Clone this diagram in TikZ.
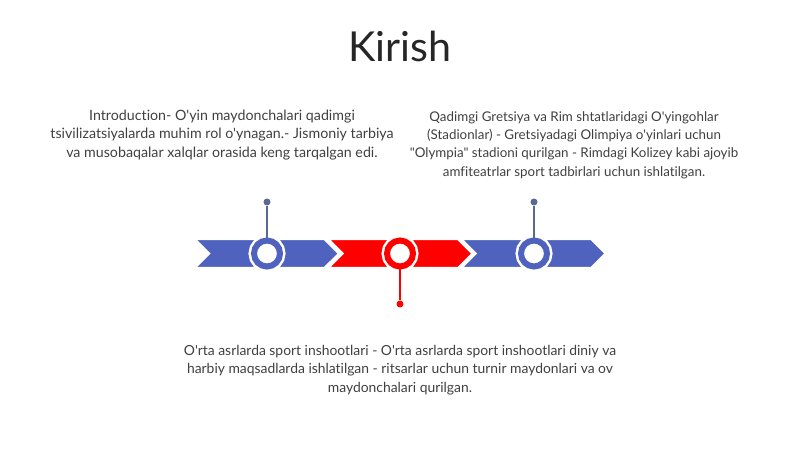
\documentclass[tikz,border=0pt]{standalone}
\usepackage{fontspec}
\setmainfont{Lato}[Ligatures={TeXOff,NoCommon}]
\usetikzlibrary{shapes.symbols, positioning}
\definecolor{segblue}{RGB}{78,98,190}
\definecolor{pingray}{RGB}{92,104,148}
\definecolor{txtgray}{RGB}{64,64,64}

\begin{document}
\begin{tikzpicture}[
  x=0.02cm, y=-0.02cm,
  seg/.style={signal, signal from=west, signal to=east, fill=#1, draw=white, line width=0.8pt, minimum width=2.86cm, minimum height=0.56cm, inner sep=0pt},
  ringnode/.style={circle, fill=white, draw=white, line width=0.05cm, double=#1, double distance=0.12cm, minimum size=0.52cm, inner sep=0pt},
  pindot/.style={circle, fill=#1, minimum size=0.14cm, inner sep=0pt},
  pinline/.style={line width=0.9pt},
  desc/.style={align=center, font=\fontsize{#1}{10.5}\selectfont, text=txtgray}
]
\useasboundingbox (0,0) rectangle (800,449);

\node[font=\fontsize{23.5}{30}\selectfont, text=black!85] (title) at (400,46) {Kirish};

% timeline band
\node[seg=segblue] (seg1) at (267,253.5) {};
\node[seg=red] (seg2) at (400.5,253.5) {};
\node[seg=segblue] (seg3) at (533.5,253.5) {};

\node[ringnode=segblue] (c1) at (267,253.5) {};
\node[ringnode=red] (c2) at (400,253.5) {};
\node[ringnode=segblue] (c3) at (534,253.5) {};

% pins
\node[pindot=pingray] (d1) at (267,202) {};
\node[pindot=red] (d2) at (400,304) {};
\node[pindot=pingray] (d3) at (534,202) {};
\draw[pinline, pingray] (c1) -- (d1);
\draw[pinline, red] (c2) -- (d2);
\draw[pinline, pingray] (c3) -- (d3);

% texts
\node[desc=8.1] (t1) at (222,135) {Introduction- O'yin maydonchalari qadimgi\\tsivilizatsiyalarda muhim rol o'ynagan.- Jismoniy tarbiya\\va musobaqalar xalqlar orasida keng tarqalgan edi.};
\node[desc=7.6] (t3) at (574,145) {Qadimgi Gretsiya va Rim shtatlaridagi O'yingohlar\\(Stadionlar) - Gretsiyadagi Olimpiya o'yinlari uchun\\"Olympia" stadioni qurilgan - Rimdagi Kolizey kabi ajoyib\\amfiteatrlar sport tadbirlari uchun ishlatilgan.};
\node[desc=7.9] (t2) at (400,370) {O'rta asrlarda sport inshootlari - O'rta asrlarda sport inshootlari diniy va\\harbiy maqsadlarda ishlatilgan - ritsarlar uchun turnir maydonlari va ov\\maydonchalari qurilgan.};
\end{tikzpicture}
\end{document}
